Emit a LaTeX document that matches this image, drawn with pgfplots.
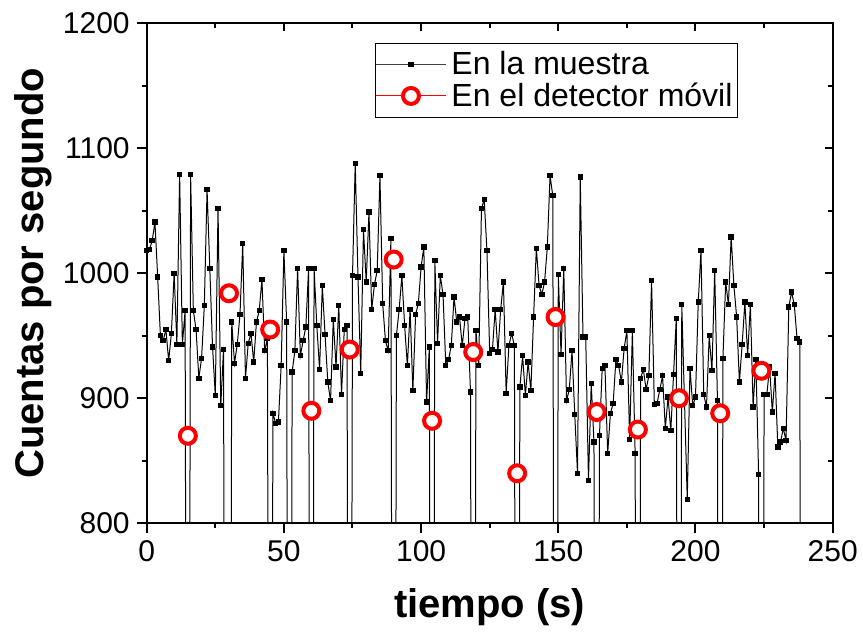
\documentclass[border=0pt]{standalone}
\usepackage{fontspec}
\setmainfont{Liberation Sans}
\usepackage{pgfplots}
\usepackage{pgfplotstable}
\pgfplotsset{compat=1.18}

% counts in the sample, one reading per second (0 = reading missing, drawn off-axis)
\pgfplotstableread{
t v
0 1018
1 1019
2 1026
3 1041
4 997
5 950
6 946
7 955
8 930
9 952
10 1000
11 943
12 1079
13 943
14 970
15 0
16 1079
17 970
18 955
19 916
20 932
21 974
22 1067
23 1004
24 941
25 902
26 1052
27 894
28 939
29 0
30 0
31 961
32 928
33 943
34 967
35 1024
36 916
37 944
38 952
39 929
40 961
41 970
42 995
43 938
44 948
45 0
46 888
47 880
48 881
49 926
50 1018
51 961
52 0
53 921
54 938
55 1004
56 934
57 946
58 957
59 1004
60 0
61 1004
62 958
63 923
64 990
65 951
66 913
67 898
68 963
69 925
70 974
71 903
72 955
73 958
74 0
75 998
76 1088
77 997
78 920
79 1035
80 993
81 1049
82 971
83 991
84 1002
85 1078
86 976
87 946
88 938
89 1028
90 0
91 950
92 971
93 998
94 958
95 926
96 971
97 906
98 967
99 976
100 1005
101 1021
102 897
103 941
104 0
105 1010
106 944
107 998
108 983
109 926
110 931
111 942
112 981
113 961
114 965
115 942
116 964
117 965
118 905
119 0
120 954
121 926
122 1052
123 1059
124 1018
125 936
126 939
127 971
128 937
129 971
130 993
131 904
132 942
133 952
134 942
135 0
136 909
137 934
138 902
139 929
140 906
141 965
142 1020
143 990
144 983
145 993
146 1021
147 1078
148 1062
149 0
150 999
151 935
152 1004
153 898
154 907
155 938
156 887
157 840
158 1077
159 949
160 949
161 834
162 912
163 865
164 0
165 870
166 924
167 926
168 856
169 888
170 896
171 931
172 926
173 913
174 940
175 954
176 867
177 954
178 856
179 0
180 916
181 923
182 907
183 918
184 994
185 895
186 896
187 907
188 918
189 876
190 901
191 874
192 919
193 964
194 0
195 975
196 897
197 819
198 924
199 894
200 901
201 977
202 1018
203 903
204 893
205 950
206 922
207 1002
208 898
209 0
210 932
211 993
212 975
213 1029
214 990
215 965
216 913
217 943
218 977
219 934
220 975
221 893
222 931
223 839
224 0
225 903
226 903
227 925
228 889
229 920
230 861
231 865
232 876
233 866
234 973
235 985
236 975
237 948
238 945
239 0
}\muestra

% counts at the moving detector
\pgfplotstableread{
t v
15 870
30 984
45 955
60 890
74 939
90 1011
104 882
119 937
135 840
149 965
164 889
179 875
194 900
209 888
224 922
}\detector

\begin{document}
\begin{tikzpicture}
\path[use as bounding box] (-73.35pt,-55.85pt) rectangle (358.15pt,261.65pt);
\begin{axis}[
  at={(0,0)}, anchor=south west,
  scale only axis, width=343pt, height=250pt,
  xmin=0, xmax=250, ymin=800, ymax=1200,
  xtick={0,50,...,250}, ytick={800,900,...,1200},
  minor x tick num=1, minor y tick num=1,
  tick align=outside, xtick pos=left, ytick pos=left,
  major tick length=5pt, minor tick length=2.5pt,
  axis line style={line width=1pt},
  every tick/.style={black, line width=1pt},
  tick label style={font=\fontsize{15}{18}\selectfont},
  /pgf/number format/assume math mode=true,
  /pgf/number format/1000 sep={},
  xlabel={tiempo (s)},
  ylabel={Cuentas por segundo},
  label style={font=\fontsize{20}{24}\selectfont\bfseries},
  xlabel style={at={(axis description cs:0.5,-0.1674)}, anchor=center},
  ylabel style={at={(axis description cs:-0.165,0.5)}, anchor=center},
  legend cell align=left,
  legend style={at={(0.3328,0.9606)}, anchor=north west, draw=black, line width=0.5pt,
    font=\fontsize{16}{19}\selectfont, inner xsep=0pt, inner ysep=3.5pt, row sep=1.5pt,
    nodes={inner ysep=0.5pt, inner xsep=2.5pt}},
]
\addplot[black, line width=0.5pt, mark=square*, mark size=1.1pt,
  legend image code/.code={
    \draw[black!75, line width=0.5pt] (0pt,0pt) -- (35pt,0pt);
    \draw[black, only marks, mark=square*, mark size=1.1pt] plot coordinates {(17.5pt,0pt)};}]
  table[x=t, y=v] {\muestra};
\addplot[only marks, mark=*, mark size=4pt, mark options={draw=red, fill=white, line width=2pt},
  legend image code/.code={
    \draw[red, line width=0.5pt] (0pt,0pt) -- (35pt,0pt);
    \draw[only marks, mark=*, mark size=4pt, mark options={draw=red, fill=white, line width=2pt}] plot coordinates {(17.5pt,0pt)};}]
  table[x=t, y=v] {\detector};
\legend{En la muestra, En el detector móvil}
\end{axis}
% mirrored ticks on top and right, pointing in
\begin{axis}[
  at={(0,0)}, anchor=south west,
  scale only axis, width=343pt, height=250pt,
  xmin=0, xmax=250, ymin=800, ymax=1200,
  xtick={0,50,...,250}, ytick={800,900,...,1200},
  minor x tick num=1, minor y tick num=1,
  tick align=inside, xtick pos=right, ytick pos=right,
  xticklabels={}, yticklabels={},
  major tick length=4pt, minor tick length=2.5pt,
  axis line style={draw=none},
  every tick/.style={black, line width=1pt},
]
\end{axis}
\end{tikzpicture}
\end{document}
